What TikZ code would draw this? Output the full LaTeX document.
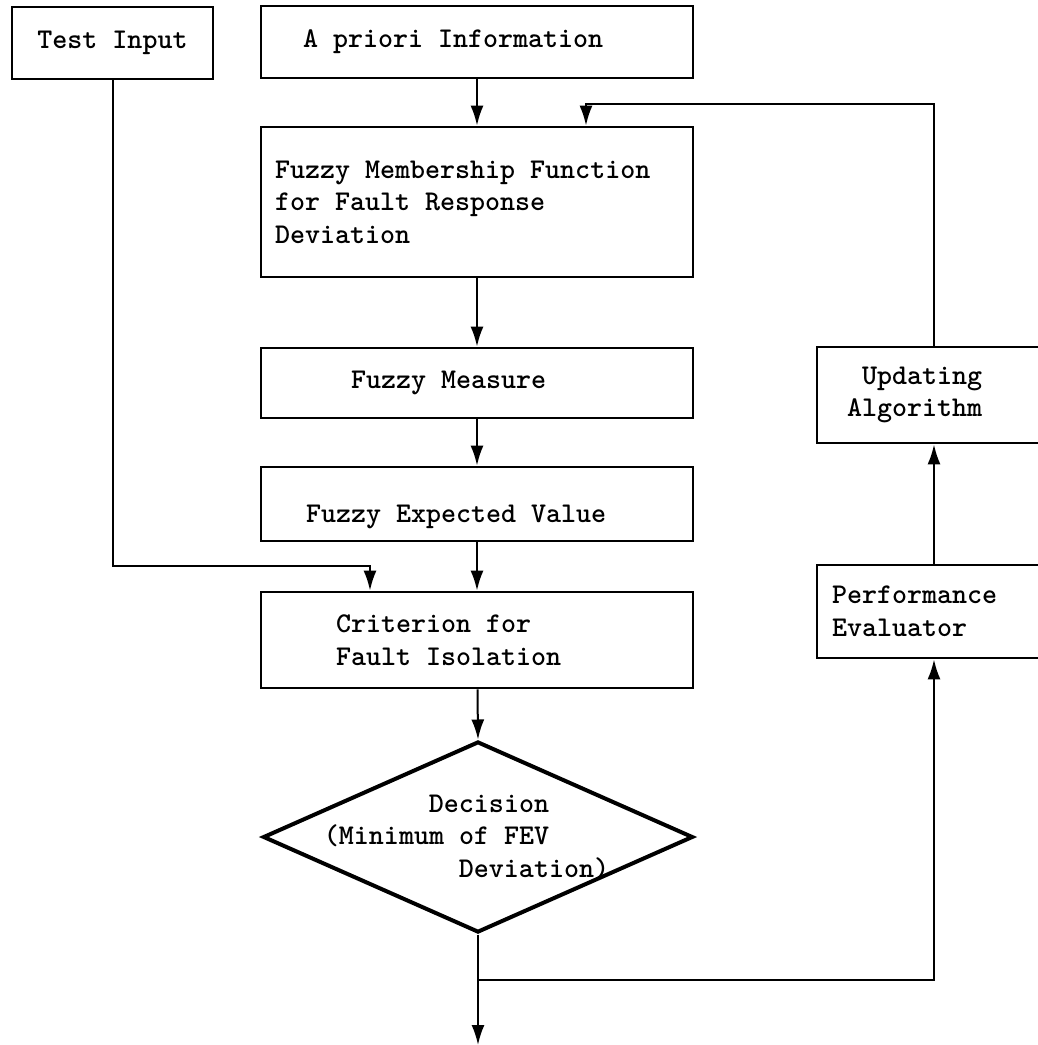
\documentclass[tikz,border=0pt]{standalone}
\usepackage{tikz}
\usetikzlibrary{arrows.meta, shapes.geometric}
\newcommand{\boxfont}{\fontsize{14.3pt}{16.3pt}\selectfont\ttfamily\bfseries}
\newcommand{\ttgap}{\spaceskip=7.5pt\xspaceskip=7.5pt\relax}

\begin{document}
\begin{tikzpicture}[x=0.5pt, y=-0.5pt,
  blk/.style={draw, line width=1.4pt, rectangle, align=left, inner ysep=0pt, font=\boxfont,
    execute at begin node=\ttgap},
  decbox/.style={draw, diamond, line width=2pt, inner sep=0pt},
  flow/.style={-{Latex[length=10pt, width=6.5pt]}, line width=1pt}
]
\useasboundingbox (0,0) rectangle (1038,1045);

% main column
\node[blk, align=center, minimum width=100.5pt, minimum height=36pt] (test) at (112.5,43) {Test Input};
\node[blk, text width=174pt, inner xsep=21pt, minimum height=36pt] (apriori) at (477,42) {A priori Information};
\node[blk, text width=202pt, inner xsep=7pt, minimum height=75pt] (fmf) at (477,202)
  {Fuzzy Membership Function\\for Fault Response\\Deviation};
\node[blk, text width=126pt, inner xsep=45pt, minimum height=35pt] (fm) at (477,383) {Fuzzy Measure};
\node[blk, text width=171pt, inner xsep=22.5pt, minimum height=37pt, text height=21pt, text depth=3pt] (fev) at (477,504)
  {Fuzzy Expected Value};
\node[blk, text width=141pt, inner xsep=37.5pt, minimum height=48pt] (crit) at (477,640)
  {Criterion for\\Fault Isolation};
\node[decbox, minimum width=215pt, minimum height=95.5pt,
  label={[name=dectext, align=left, font=\boxfont, execute at begin node=\ttgap, xshift=-5.75pt]center:\hspace*{52.5pt}Decision\\(Minimum of FEV\\\hspace*{67.5pt}Deviation)}]
  (dec) at (478,837) {};

% feedback column
\node[blk, text width=87pt, inner xsep=15pt, minimum height=48pt] (upd) at (934,395)
  {\hspace*{7.5pt}Updating\\Algorithm};
\node[blk, text width=102pt, inner xsep=7.5pt, minimum height=46.5pt] (perf) at (934,611.5)
  {Performance\\Evaluator};

\coordinate (fbk) at (586,104);
\coordinate (tin) at (370,566);
\coordinate (br) at (478,980);
\coordinate (out) at (478,1045);

\draw[flow] (apriori) -- (fmf);
\draw[flow] (fmf) -- (fm);
\draw[flow] (fm) -- (fev);
\draw[flow] (fev) -- (crit);
\draw[flow] (crit) -- (dec.north);
\draw[flow] (test.south) |- (tin) -- (tin |- crit.north);
\draw[flow] (dec.south) -- (out);
\draw[flow] (br) -| (perf.south);
\draw[flow] (perf) -- (upd);
\draw[flow] (upd.north) |- (fbk) -- (fbk |- fmf.north);
\end{tikzpicture}
\end{document}
